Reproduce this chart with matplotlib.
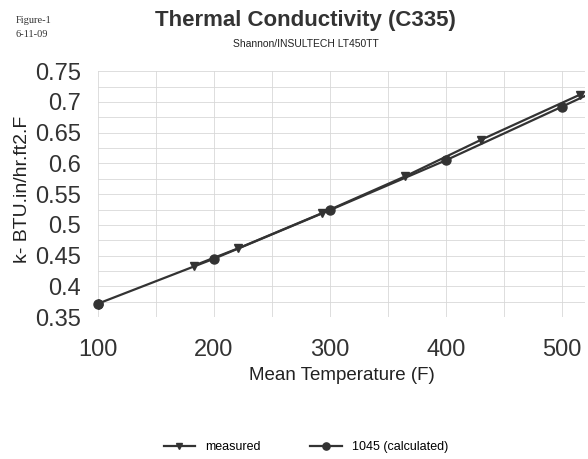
import numpy as np
import matplotlib
matplotlib.use("Agg")
import matplotlib.pyplot as plt
from matplotlib.ticker import MultipleLocator

plt.rcParams['font.family'] = ['Liberation Sans', 'DejaVu Sans']

# measured values
meas_t = [183, 221, 293, 365, 430, 516]
meas_k = [0.434, 0.462, 0.519, 0.579, 0.638, 0.712]
# calculated (1045)
calc_t = [100, 200, 300, 400, 500, 550]
calc_k = [0.372, 0.445, 0.524, 0.605, 0.692, 0.736]

xticks = [100, 200, 300, 400, 500]
yticks = [0.35, 0.4, 0.45, 0.5, 0.55, 0.6, 0.65, 0.7, 0.75]

fig = plt.figure(figsize=(5.88, 4.59), dpi=100)
ax = fig.add_axes([0.1667, 0.309, 0.828, 0.536])

ax.plot(meas_t, meas_k, color='#333333', lw=1.6, marker='v', ms=6,
        label='measured')
ax.plot(calc_t, calc_k, color='#333333', lw=1.6, marker='o', ms=6.5,
        label='1045 (calculated)')
# first point sits on the axis edge, keep it whole
ax.plot(calc_t[:1], calc_k[:1], color='#333333', marker='o', ms=6.5,
        ls='none', clip_on=False)

ax.set_xlim(100, 520)
ax.set_ylim(0.35, 0.75)
ax.set_xticks(xticks)
ax.set_xticklabels([str(t) for t in xticks], fontsize=17, color='#333333')
ax.set_yticks(yticks)
ax.set_yticklabels(['%g' % v for v in yticks], fontsize=17, color='#333333')
ax.xaxis.set_minor_locator(MultipleLocator(50))
ax.yaxis.set_minor_locator(MultipleLocator(0.025))
ax.grid(True, which='both', color='#d8d8d8', lw=0.6)
ax.tick_params(axis='x', which='both', length=0, pad=16)
ax.tick_params(axis='y', which='both', length=0, pad=12)
for s in ax.spines.values():
    s.set_visible(False)

ax.set_xlabel('Mean Temperature (F)', fontsize=13.5, color='#222222', labelpad=4)
ax.set_ylabel('k- BTU.in/hr.ft2.F', fontsize=14, color='#222222')
ax.yaxis.set_label_coords(-0.138, 0.52)

fig.text(0.52, 0.955, 'Thermal Conductivity (C335)', ha='center', va='center',
         fontsize=16, fontweight='bold', color='#333333')
fig.text(0.52, 0.905, 'Shannon/INSULTECH LT450TT', ha='center', va='center',
         fontsize=7.5, color='#222222')
fig.text(0.026, 0.955, 'Figure-1', family='Liberation Serif', fontsize=7.5,
         va='center', color='#333333')
fig.text(0.026, 0.925, '6-11-09', family='Liberation Serif', fontsize=7.5,
         va='center', color='#333333')

fig.legend(loc='center', bbox_to_anchor=(0.52, 0.026), ncol=2, frameon=False,
           fontsize=9, handlelength=2.5, columnspacing=4, markerscale=0.8)

fig.savefig('out.png', dpi=100)
